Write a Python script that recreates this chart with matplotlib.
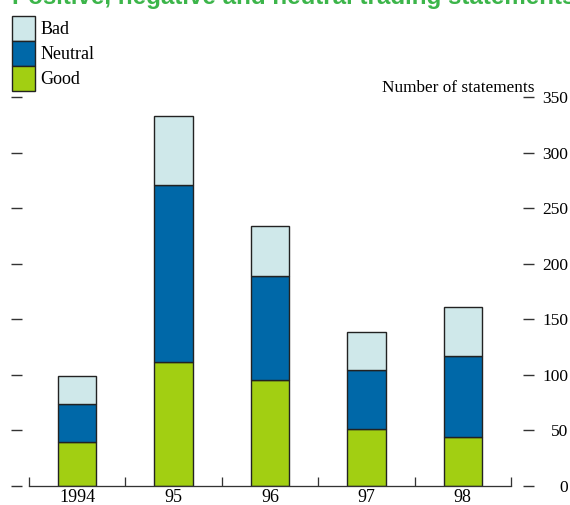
import matplotlib
matplotlib.use("Agg")
import matplotlib.pyplot as plt
import numpy as np
from matplotlib.patches import Patch

years = ["1994", "95", "96", "97", "98"]
good = [40, 112, 95, 51, 44]
neutral = [34, 159, 94, 53, 73]
bad = [25, 62, 45, 35, 44]

C_GOOD = "#a2cf12"
C_NEUTRAL = "#0068a8"
C_BAD = "#cfe8ea"
EDGE = "#222222"
AXIS = "#333333"
SERIF = ["Liberation Serif", "DejaVu Serif"]
PX = 72 / 100  # points per pixel at dpi 100

fig = plt.figure(figsize=(5.7, 5.05), dpi=100)
ax = fig.add_axes([29 / 570, 19 / 505, 482 / 570, 389 / 505])

x = np.arange(len(years))
bottom2 = np.array(good) + np.array(neutral)
kw = dict(width=0.4, edgecolor=EDGE, linewidth=1.0)
ax.bar(x, good, color=C_GOOD, **kw)
ax.bar(x, neutral, bottom=good, color=C_NEUTRAL, **kw)
ax.bar(x, bad, bottom=bottom2, color=C_BAD, **kw)

ax.set_xlim(-0.5, len(years) - 0.5)
ax.set_ylim(0, 350)
ax.set_yticks(range(0, 351, 50))

ax.spines["top"].set_visible(False)
ax.spines["left"].set_visible(False)
ax.spines["right"].set_visible(False)
ax.spines["left"].set_position(("outward", 7 * PX))
ax.spines["right"].set_position(("outward", 12 * PX))
ax.spines["bottom"].set_linewidth(1.3 * PX)
ax.spines["bottom"].set_color(AXIS)

# dashes on both sides, numbers only on the right
ax.tick_params(axis="y", which="major", left=True, right=True,
               labelleft=False, labelright=True, direction="out",
               width=1.4 * PX, color=AXIS, labelsize=12.5)
ax.yaxis.set_tick_params(which="major", length=11 * PX)
for t in ax.yaxis.get_major_ticks():
    t.tick2line.set_markersize(10 * PX)
for lab in ax.get_yticklabels():
    lab.set_family(SERIF)
    lab.set_horizontalalignment("right")
ax.tick_params(axis="y", pad=34 * PX)

ax.set_xticks(x)
ax.set_xticklabels(years, family=SERIF, fontsize=13)
ax.set_xticks(np.arange(-0.5, len(years)), minor=True)
ax.tick_params(axis="x", which="major", length=0, pad=2)
ax.tick_params(axis="x", which="minor", direction="in", length=9 * PX,
               width=1.3 * PX, color=AXIS)

fig.text(535 / 570, 1 - 92 / 505, "Number of statements", family=SERIF,
         fontsize=12.4, ha="right", va="baseline")

fig.text(12 / 570, 1 - 4 / 505,
         "Positive, negative and neutral trading statements",
         family=["Liberation Sans", "DejaVu Sans"], fontweight="bold",
         fontsize=17.4, color="#3cb54a", ha="left", va="baseline")

handles = [
    Patch(facecolor=C_BAD, edgecolor=EDGE, linewidth=1.0, label="Bad"),
    Patch(facecolor=C_NEUTRAL, edgecolor=EDGE, linewidth=1.0, label="Neutral"),
    Patch(facecolor=C_GOOD, edgecolor=EDGE, linewidth=1.0, label="Good"),
]
fig.legend(handles=handles, loc="upper left",
           bbox_to_anchor=(12 / 570, 1 - 16 / 505), frameon=False,
           prop={"family": SERIF, "size": 13}, labelspacing=0.0,
           handlelength=23 / 18, handleheight=1.754, handletextpad=0.3,
           borderaxespad=0, borderpad=0)

fig.savefig("out.png", dpi=100)
